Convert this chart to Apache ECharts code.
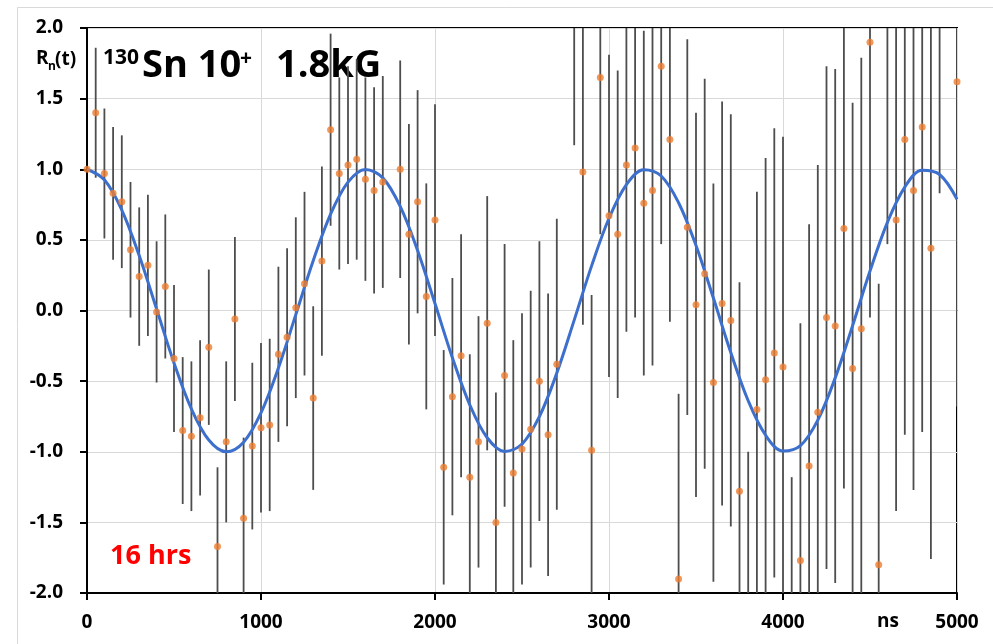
<!DOCTYPE html>
<html>
<head>
<meta charset="utf-8">
<script src="https://cdn.jsdelivr.net/npm/echarts@6/dist/echarts.min.js"></script>
<style>
  html, body { margin: 0; padding: 0; background: #fff; }
  #chart { width: 993px; height: 644px; }
</style>
</head>
<body>
<div id="chart"></div>
<script>
// ---- data ----
const times = [0,50,100,150,200,250,300,350,400,450,500,550,600,650,700,750,800,850,900,950,
  1000,1050,1100,1150,1200,1250,1300,1350,1400,1450,1500,1550,1600,1650,1700,1750,1800,1850,1900,1950,
  2000,2050,2100,2150,2200,2250,2300,2350,2400,2450,2500,2550,2600,2650,2700,2750,2800,2850,2900,2950,
  3000,3050,3100,3150,3200,3250,3300,3350,3400,3450,3500,3550,3600,3650,3700,3750,3800,3850,3900,3950,
  4000,4050,4100,4150,4200,4250,4300,4350,4400,4450,4500,4550,4600,4650,4700,4750,4800,4850,4900,4950,5000];

const rValues = [1.00,1.40,0.97,0.83,0.77,0.43,0.24,0.32,-0.01,0.17,
  -0.34,-0.85,-0.89,-0.76,-0.26,-1.67,-0.93,-0.06,-1.47,-0.96,
  -0.83,-0.81,-0.31,-0.19,0.02,0.19,-0.62,0.35,1.28,0.97,
  1.03,1.07,0.93,0.85,0.91,null,1.00,0.54,0.77,0.10,
  0.64,-1.11,-0.61,-0.32,-1.18,-0.93,-0.09,-1.50,-0.46,-1.15,
  -0.98,-0.84,-0.50,-0.88,-0.38,null,2.24,0.98,-0.99,1.65,
  0.67,0.54,1.03,1.15,0.76,0.85,1.73,1.21,-1.90,0.59,
  0.04,0.26,-0.51,0.05,-0.07,-1.28,-2.50,-0.70,-0.49,-0.30,
  -0.40,-2.85,-1.77,-1.10,-0.72,-0.05,-0.11,0.58,-0.41,-0.13,
  1.90,-1.80,2.49,0.64,1.21,0.85,1.30,0.44,3.07,null,1.62];

const rErrors = [0.00,0.46,0.46,0.47,0.47,0.48,0.49,0.50,0.50,0.51,
  0.52,0.52,0.53,0.55,0.55,0.56,0.57,0.58,0.57,0.59,
  0.60,0.61,0.62,0.63,0.64,0.65,0.65,0.67,0.68,0.68,
  0.70,0.71,0.72,0.73,0.75,0.75,0.77,0.78,0.79,0.80,
  0.82,0.83,0.84,0.86,0.87,0.89,0.90,0.92,0.93,0.94,
  0.96,0.98,0.99,1.00,1.03,1.05,1.07,1.08,1.10,1.11,
  1.14,1.16,1.18,1.20,1.22,1.24,1.26,1.29,1.31,1.33,
  1.36,1.38,1.41,1.43,1.46,1.48,1.50,1.54,1.57,1.59,
  1.63,1.67,1.68,1.71,1.75,1.78,1.82,1.84,1.88,1.92,
  1.95,1.99,2.02,2.06,2.09,2.12,2.16,2.20,2.24,2.27,2.30];

// fitted curve, read every 100 ns
const curveTimes = [0,100,200,300,400,500,600,700,800,900,1000,1100,1200,1300,1400,1500,1600,1700,1800,1900,
  2000,2100,2200,2300,2400,2500,2600,2700,2800,2900,3000,3100,3200,3300,3400,3500,3600,3700,3800,3900,
  4000,4100,4200,4300,4400,4500,4600,4700,4800,4900,5000];
const curveValues = [1.00,0.925,0.711,0.389,0.010,-0.371,-0.697,-0.917,-1.000,-0.932,
  -0.724,-0.407,-0.029,0.353,0.683,0.909,0.999,0.939,0.737,0.425,
  0.049,-0.335,-0.668,-0.901,-0.998,-0.946,-0.751,-0.443,-0.068,0.316,
  0.653,0.892,0.997,0.952,0.763,0.460,0.088,-0.298,-0.639,-0.883,
  -0.995,-0.957,-0.776,-0.477,-0.107,0.279,0.624,0.874,0.993,0.963,0.788];

const xTicks = { min: 0, max: 5000, interval: 1000 };
const yTicks = { min: -2, max: 2, interval: 0.5 };

// ---- build series data ----
const pointData = [];
const barData = [];
times.forEach((t, i) => {
  if (rValues[i] === null) return;
  pointData.push([t, rValues[i]]);
  if (rErrors[i] > 0) barData.push([t, rValues[i], rErrors[i]]);
});
const curveData = curveTimes.map((t, i) => [t, curveValues[i]]);

const labelFont = { fontFamily: 'Open Sans', fontWeight: 'bold', fontSize: 19, color: '#000' };

const chart = echarts.init(document.getElementById('chart'), null, { renderer: 'canvas' });
chart.setOption({
  animation: false,
  backgroundColor: '#fff',
  grid: { left: 87, right: 36, top: 28, bottom: 51, show: true, borderColor: '#000', borderWidth: 2, containLabel: false },
  xAxis: {
    type: 'value', min: xTicks.min, max: xTicks.max, interval: xTicks.interval,
    axisLine: { show: true, onZero: false, lineStyle: { color: '#000', width: 2 } },
    axisTick: { show: true, length: 7, lineStyle: { color: '#000', width: 2 } },
    splitLine: { show: true, lineStyle: { color: '#d9d9d9', width: 1 } },
    axisLabel: Object.assign({ margin: 20, formatter: v => String(v) }, labelFont)
  },
  yAxis: {
    type: 'value', min: yTicks.min, max: yTicks.max, interval: yTicks.interval,
    axisLine: { show: true, onZero: false, lineStyle: { color: '#000', width: 2 } },
    axisTick: { show: true, length: 7, lineStyle: { color: '#000', width: 2 } },
    splitLine: { show: true, lineStyle: { color: '#d9d9d9', width: 1 } },
    axisLabel: Object.assign({ margin: 24, formatter: v => v.toFixed(1) }, labelFont)
  },
  graphic: [
    { type: 'rect', silent: true, z: -10, shape: { x: 17.5, y: 7.5, width: 1000, height: 700 },
      style: { fill: 'none', stroke: '#d9d9d9', lineWidth: 1 } },
    { type: 'text', style: { x: 36, y: 59, text: 'R', font: 'bold 19px "Open Sans"', fill: '#000', textVerticalAlign: 'middle' } },
    { type: 'text', style: { x: 48, y: 67, text: 'n', font: 'bold 12px "Open Sans"', fill: '#000', textVerticalAlign: 'middle' } },
    { type: 'text', style: { x: 55, y: 60, text: '(t)', font: 'bold 19px "Open Sans"', fill: '#000', textVerticalAlign: 'middle' } },
    { type: 'text', style: { x: 103, y: 58, text: '130', font: 'bold 21px "Open Sans"', fill: '#000', textVerticalAlign: 'middle' } },
    { type: 'text', style: { x: 142, y: 66, text: 'Sn 10', font: 'bold 38px "Open Sans"', fill: '#000', textVerticalAlign: 'middle' } },
    { type: 'text', style: { x: 240, y: 59, text: '+', font: 'bold 21px "Open Sans"', fill: '#000', textVerticalAlign: 'middle' } },
    { type: 'text', style: { x: 276, y: 66, text: '1.8kG', font: 'bold 38px "Open Sans"', fill: '#000', textVerticalAlign: 'middle' } },
    { type: 'text', style: { x: 110, y: 556, text: '16 hrs', font: 'bold 27px "Open Sans"', fill: '#ff0000', textVerticalAlign: 'middle' } },
    { type: 'text', style: { x: 888, y: 622, text: 'ns', font: 'bold 19px "Open Sans"', fill: '#000', textAlign: 'center', textVerticalAlign: 'middle' } }
  ],
  series: [
    {
      type: 'custom', name: 'error', z: 2, clip: true,
      encode: { x: 0, y: 1 },
      data: barData,
      renderItem: function (params, api) {
        const x = api.value(0), v = api.value(1), e = api.value(2);
        const hi = Math.min(yTicks.max, v + e), lo = Math.max(yTicks.min, v - e);
        if (hi <= lo) return null;
        const p1 = api.coord([x, hi]), p2 = api.coord([x, lo]);
        return { type: 'line', shape: { x1: p1[0], y1: p1[1], x2: p2[0], y2: p2[1] },
          style: { stroke: '#4d4d4d', lineWidth: 1.8 } };
      }
    },
    {
      type: 'line', name: 'fit', z: 3, data: curveData, smooth: 0.35, showSymbol: false,
      lineStyle: { color: '#3d70cc', width: 3 }, clip: true
    },
    {
      type: 'scatter', name: 'data', z: 4, data: pointData, symbolSize: 7, clip: true,
      itemStyle: { color: '#ed7d31' }
    }
  ]
});
</script>
</body>
</html>
